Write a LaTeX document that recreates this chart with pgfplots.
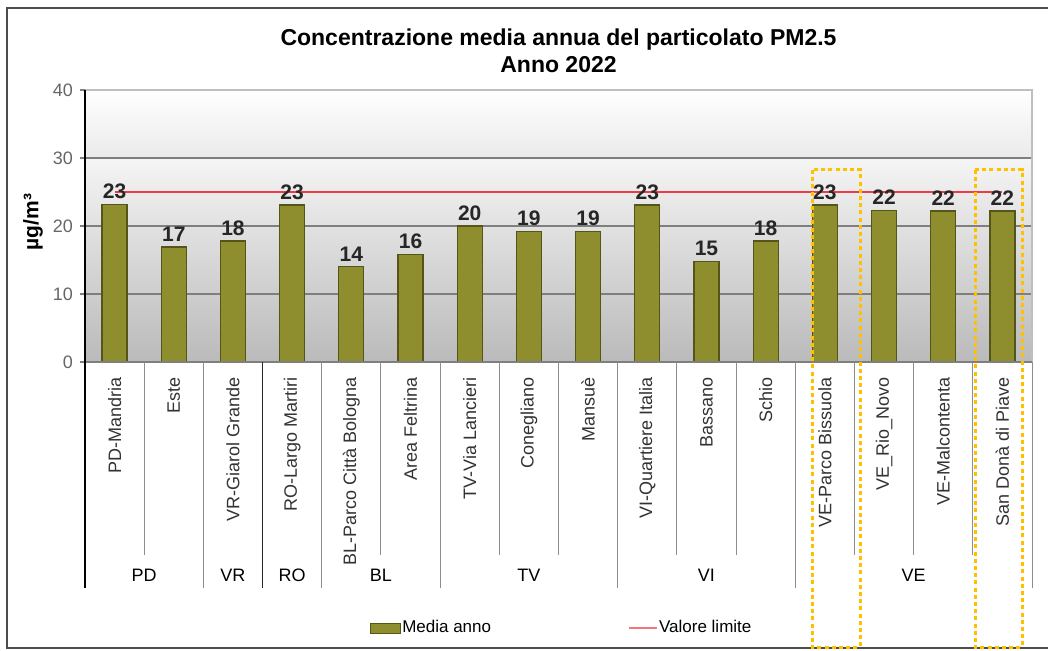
\documentclass[border=0pt]{standalone}
\usepackage{fontspec}
\setmainfont{Liberation Sans}
\usepackage{pgfplots}
\pgfplotsset{compat=1.18}
\definecolor{barfill}{HTML}{8E8E2E}
\definecolor{bardraw}{HTML}{55551A}
\definecolor{limred}{HTML}{EE3B45}
\definecolor{hilite}{HTML}{FFC000}
\definecolor{gridc}{HTML}{7F7F7F}

\begin{document}
\begin{tikzpicture}
\useasboundingbox (0,0) rectangle (524pt,-325.5pt);
% outer frame (1 px = 0.5 pt)
\draw[black!70, line width=1pt] (1048*0.5pt,-8*0.5pt) -- (7*0.5pt,-8*0.5pt)
  -- (7*0.5pt,-648*0.5pt) -- (1048*0.5pt,-648*0.5pt);
\begin{axis}[
  at={(42.5pt,-181pt)}, anchor=south west,
  scale only axis, width=473.5pt, height=136pt,
  xmin=-0.5, xmax=15.5, ymin=0, ymax=40,
  clip=false,
  axis line style={draw=none},
  /pgf/number format/assume math mode=true,
  ytick={0,10,20,30,40}, ytick pos=left, tick align=outside,
  major tick length=2.5pt,
  y tick style={gridc, line width=0.6pt},
  yticklabel style={font=\fontsize{9}{10}\selectfont, text=black!60},
  xtick=data, x tick style={draw=none},
  xticklabels={PD-Mandria, Este, VR-Giarol Grande, RO-Largo Martiri,
    BL-Parco Città Bologna, Area Feltrina, TV-Via Lancieri, Conegliano,
    Mansuè, VI-Quartiere Italia, Bassano, Schio, VE-Parco Bissuola,
    VE\_Rio\_Novo, VE-Malcontenta, San Donà di Piave},
  xticklabel style={rotate=90, anchor=east, inner sep=0pt,
    font=\fontsize{9}{10}\selectfont, text=black!80},
  xticklabel shift=5pt,
  ylabel={µg/m³},
  ylabel style={at={(axis description cs:-0.055,0.515)}, anchor=center,
    font=\bfseries\fontsize{10.5}{12}\selectfont},
  title={Concentrazione media annua del particolato PM2.5\\Anno 2022},
  every axis title shift=0pt,
  title style={at={(0.5,1.143)}, anchor=center, align=center,
    font=\bfseries\fontsize{11.5}{13.5}\selectfont},
  legend style={at={(0.503,-0.978)}, anchor=center, draw=none, fill=none,
    legend columns=2, font=\fontsize{8.5}{10}\selectfont,
    /tikz/every even column/.append style={column sep=68pt},
    nodes={inner sep=0.5pt}},
]
% plot-area background: two gradient bands, then the grid lines
\shade[top color=white, bottom color=black!8]
  (rel axis cs:0,1) rectangle (rel axis cs:1,0.75);
\shade[top color=black!4, bottom color=black!27]
  (rel axis cs:0,0.75) rectangle (rel axis cs:1,0);
\draw[gridc, line width=0.7pt] (rel axis cs:0,0.25) -- (rel axis cs:1,0.25);
\draw[gridc, line width=0.7pt] (rel axis cs:0,0.5) -- (rel axis cs:1,0.5);
\draw[gridc, line width=0.7pt] (rel axis cs:0,0.75) -- (rel axis cs:1,0.75);
\draw[black!25, line width=0.8pt] (rel axis cs:0,1) -- (rel axis cs:1,1)
  -- (rel axis cs:1,0);

\addplot[ybar, bar width=12.5pt, bar shift=0pt, fill=barfill, draw=bardraw,
  line width=0.6pt,
  nodes near coords,
  nodes near coords style={font=\bfseries\fontsize{10.5}{12}\selectfont,
    text=black!85, inner sep=2.5pt,
    /pgf/number format/fixed, /pgf/number format/precision=0},
  legend image code/.code={\draw[fill=barfill, draw=bardraw, line width=0.5pt]
    (0pt,-2.5pt) rectangle (15pt,2.5pt);}]
  coordinates {(0,23.2) (1,16.9) (2,17.8) (3,23.1) (4,14.0) (5,15.8)
    (6,20.0) (7,19.2) (8,19.2) (9,23.1) (10,14.8) (11,17.8)
    (12,23.1) (13,22.3) (14,22.2) (15,22.2)};
\addlegendentry{Media anno}
\addplot[limred, line width=1.2pt, mark=none,
  legend image code/.code={\draw[limred!70, line width=1pt]
    (0pt,0pt) -- (14pt,0pt);}]
  coordinates {(0,25) (15,25)};
\addlegendentry{Valore limite}

% axis lines and the category table below the plot
\draw[gridc, line width=0.7pt] (rel axis cs:0,0) -- (rel axis cs:1,0);
\pgfplotsinvokeforeach{0.5,4.5,6.5,7.5,9.5,10.5,12.5,13.5,14.5}{
  \draw[black!45, line width=0.5pt] (axis cs:#1,0) -- (axis cs:#1,-28.4);}
\pgfplotsinvokeforeach{1.5,3.5,5.5,8.5,11.5,15.5}{
  \draw[black!45, line width=0.5pt] (axis cs:#1,0) -- (axis cs:#1,-33.2);}
\draw[black!85, line width=0.7pt] (axis cs:2.5,0) -- (axis cs:2.5,-33.2);
\draw[black, line width=1pt] (rel axis cs:0,1) -- (axis cs:-0.5,-33.2);
\node[font=\fontsize{9}{10}\selectfont] at (axis cs:0.5,-31.3) {PD};
\node[font=\fontsize{9}{10}\selectfont] at (axis cs:2,-31.3) {VR};
\node[font=\fontsize{9}{10}\selectfont] at (axis cs:3,-31.3) {RO};
\node[font=\fontsize{9}{10}\selectfont] at (axis cs:4.5,-31.3) {BL};
\node[font=\fontsize{9}{10}\selectfont] at (axis cs:7,-31.3) {TV};
\node[font=\fontsize{9}{10}\selectfont] at (axis cs:10,-31.3) {VI};
\node[font=\fontsize{9}{10}\selectfont] at (axis cs:13.5,-31.3) {VE};
\end{axis}
% highlight boxes
\draw[hilite, line width=1.5pt, dash pattern=on 2pt off 1.6pt]
  (812*0.5pt,-170*0.5pt) rectangle (860*0.5pt,-647*0.5pt);
\draw[hilite, line width=1.5pt, dash pattern=on 2pt off 1.6pt]
  (975*0.5pt,-170*0.5pt) rectangle (1022*0.5pt,-647*0.5pt);
\end{tikzpicture}
\end{document}
